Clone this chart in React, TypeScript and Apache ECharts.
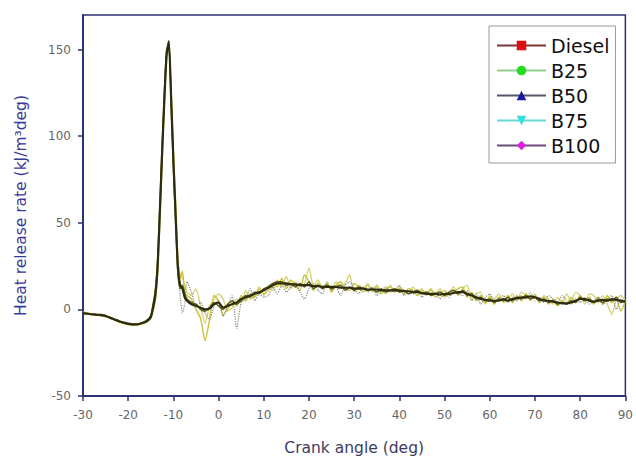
import React, { useEffect, useRef } from "react";
import * as echarts from "echarts";

const angles: number[] = [
  -30, -29, -28, -27, -26, -25, -24, -23, -22, -21, -20, -19, -18, -17, -16,
  -15, -14.5, -14, -13.5, -13, -12.5, -12, -11.5, -11, -10.5, -10, -9.5, -9, -8.5, -8, -7.5, -7,
  -6, -5, -4, -3, -2, -1, 0, 1, 2, 3,
  4, 5, 6, 7, 8, 9, 10, 11, 12, 13,
  14, 15, 16, 17, 18, 19, 20, 21, 22, 23,
  24, 25, 26, 27, 28, 29, 30, 31, 32, 33,
  34, 35, 36, 37, 38, 39, 40, 41, 42, 43,
  44, 45, 46, 47, 48, 49, 50, 51, 52, 53,
  54, 55, 56, 57, 58, 59, 60, 61, 62, 63,
  64, 65, 66, 67, 68, 69, 70, 71, 72, 73,
  74, 75, 76, 77, 78, 79, 80, 81, 82, 83,
  84, 85, 86, 87, 88, 89, 90,
];

const diesel: number[] = [
  -2.3, -2.5, -2.8, -3, -3.3, -3.8, -4.8, -5.8, -6.8, -7.6, -8.2, -8.6, -8.6, -8, -7,
  -4.5, 1, 8, 24, 56, 90, 121, 147, 155, 122, 86, 54, 24, 14, 12, 7, 5,
  3, 2, 1, 0, 0.5, 3, 4, 1, 2, 3,
  4, 6, 7, 8, 9, 10, 11, 12.5, 14, 15,
  15, 15, 14.5, 14.5, 14, 14, 14, 13.5, 13.5, 13,
  13, 13, 13, 12.5, 12.5, 12.5, 12, 12, 12, 11.5,
  11.5, 11.5, 11, 11, 11, 11, 11, 10.5, 10.5, 10,
  10, 9.5, 9, 9, 9, 8.5, 9, 9, 9.5, 10,
  10, 9, 8, 7, 6, 5.5, 5, 5, 5, 6,
  5, 6, 6.5, 7, 7, 7.5, 7, 6, 5, 5,
  4.5, 4, 3.5, 3.5, 4, 5, 6, 6, 5, 4.5,
  5, 5.5, 5, 6, 5.5, 5, 4.5,
];

const b25: number[] = [
  -2, -2.4, -3, -3.2, -3, -3.5, -5, -6, -7, -7.8, -8.5, -8.8, -8.4, -7.8, -6.5,
  -3.5, 3, 11, 28, 60, 94, 125, 150, 153, 118, 82, 50, 21, 12, 14, 9, 6,
  4, 3, 0, -1, 1, 4, 2, 0, 3, 5,
  3, 5, 8, 7, 10, 9, 12, 13, 15, 16,
  16, 14, 15, 13, 15, 13, 16, 12, 14, 12,
  14, 12, 13, 14, 11, 13, 11, 13, 12, 11,
  12, 10, 12, 10, 11, 12, 10, 11, 9, 10,
  11, 9, 10, 8, 9, 10, 8, 10, 11, 9,
  11, 8, 9, 6, 7, 5, 6, 4, 6, 5,
  7, 5, 7, 6, 8, 6, 7, 5, 6, 4,
  5, 3, 4, 3, 5, 4, 7, 5, 6, 4,
  6, 4, 6, 5, 7, 4, 5,
];

const b50: number[] = [
  -1.5, -2, -2.5, -3.5, -3, -4, -4.5, -6, -7.5, -8, -9, -9, -9, -8.5, -7.5,
  -5, -1, 5, 20, 50, 85, 118, 145, 152, 126, 92, 62, 30, 18, 22, 10, 8,
  6, 0, -5, -18, -6, 8, 5, -3, 0, 4,
  2, 8, 5, 9, 7, 12, 9, 11, 15, 13,
  18, 12, 17, 14, 11, 20, 16, 11, 15, 13,
  15, 10, 14, 16, 12, 11, 15, 13, 10, 14,
  11, 14, 9, 12, 13, 10, 12, 9, 12, 11,
  8, 11, 9, 12, 7, 9, 11, 8, 10, 12,
  13, 7, 10, 5, 8, 4, 7, 3, 7, 5,
  8, 4, 8, 5, 9, 6, 8, 4, 7, 3,
  6, 2, 5, 3, 7, 4, 8, 5, 7, 3,
  7, 3, 8, 4, 6, -1, 5,
];

const b75: number[] = [
  -2.8, -2.2, -3.2, -2.8, -3.8, -4.2, -5.2, -6.2, -7.2, -8, -8.8, -8.2, -8.8, -7.8, -6.8,
  -4, 2, 10, 27, 58, 92, 123, 148, 154, 124, 90, 58, 28, 20, 18, 14, 10,
  8, 12, 2, -8, 2, 6, 9, 6, -1, 1,
  6, 4, 11, 6, 8, 13, 8, 14, 11, 17,
  13, 19, 12, 16, 13, 15, 24, 13, 17, 12,
  14, 11, 16, 13, 15, 20, 10, 14, 12, 15,
  10, 13, 11, 9, 14, 10, 13, 11, 9, 13,
  10, 12, 8, 11, 9, 12, 7, 10, 13, 8,
  12, 14, 6, 9, 10, 3, 8, 6, 9, 4,
  6, 9, 5, 10, 8, 5, 9, 4, 8, 6,
  3, 7, 4, 9, 5, 10, 8, 3, 9, 8,
  4, 8, 3, -3, 6, 8, 5,
];

const b100: number[] = [
  -2.5, -2.6, -2.6, -3.1, -3.4, -4, -4.6, -5.6, -6.6, -7.4, -8, -8.4, -8.4, -7.9, -7.2,
  -5, 0, 7, 22, 54, 88, 120, 146, 154, 121, 88, 56, 27, 8, -2, 3, 16,
  10, 2, 4, -2, -6, 2, 5, -4, 2, 8,
  -11, 4, 6, 12, 5, 9, 7, 8, 13, 9,
  14, 10, 13, 15, 10, 6, 12, 15, 11, 9,
  16, 11, 13, 8, 14, 16, 12, 9, 13, 10,
  13, 8, 11, 13, 10, 11, 14, 8, 11, 9,
  11, 7, 10, 8, 10, 6, 9, 7, 11, 9,
  8, 11, 5, 9, 3, 7, 9, 4, 6, 8,
  4, 7, 5, 8, 6, 10, 5, 7, 4, 8,
  6, 4, 8, 5, 3, 6, 4, 7, 3, 5,
  7, 3, 5, 8, 0, 6, 4,
];

const seriesNames = ["Diesel", "B25", "B50", "B75", "B100"];
const yTicks = [-50, 0, 50, 100, 150];

const FONT = "DejaVu Sans";
const NAVY = "#2f3275";

export default function App() {
  const ref = useRef<HTMLDivElement>(null);
  useEffect(() => {
    if (!ref.current) return;
    const chart = echarts.init(ref.current, null, { renderer: "svg" });
    const pair = (vals: number[]) => angles.map((a, i) => [a, vals[i]]);
    const mk = (
      name: string,
      vals: number[],
      color: string,
      width: number,
      type: string,
      symbol: string,
      z: number,
      rotate = 0
    ) => ({
      name,
      type: "line",
      data: pair(vals),
      showSymbol: false,
      symbol,
      symbolRotate: rotate,
      z,
      smooth: 0.2,
      lineStyle: { color, width, type },
      itemStyle: { color },
    });
    const legendLine = (color: string) => ({ color, width: 2, type: "solid" });
    chart.setOption({
      animation: false,
      backgroundColor: "#ffffff",
      textStyle: { fontFamily: FONT },
      grid: {
        left: 83,
        top: 15,
        right: 8,
        bottom: 64,
        show: true,
        borderColor: NAVY,
        borderWidth: 1.5,
        backgroundColor: "transparent",
      },
      legend: {
        orient: "vertical",
        left: 489,
        top: 26,
        padding: [10, 6, 8, 7],
        itemGap: 6,
        itemWidth: 49,
        itemHeight: 12,
        backgroundColor: "#ffffff",
        borderColor: "#9a9a9a",
        borderWidth: 1,
        textStyle: { fontFamily: FONT, fontSize: 19, color: "#111", lineHeight: 19 },
        data: [
          { name: seriesNames[0], itemStyle: { color: "#dd1111" }, lineStyle: legendLine("#7a3535") },
          { name: seriesNames[1], itemStyle: { color: "#22dd22" }, lineStyle: legendLine("#8fcf8f") },
          { name: seriesNames[2], itemStyle: { color: "#1a1aa0" }, lineStyle: legendLine("#555566") },
          { name: seriesNames[3], itemStyle: { color: "#33dddd" }, lineStyle: legendLine("#66d8d8") },
          { name: seriesNames[4], itemStyle: { color: "#dd22dd" }, lineStyle: legendLine("#6a4a7a") },
        ],
      },
      xAxis: {
        type: "value",
        min: -30,
        max: 90,
        interval: 10,
        name: "Crank angle (deg)",
        nameLocation: "middle",
        nameGap: 44,
        nameTextStyle: { fontFamily: FONT, fontSize: 15.5, color: "#3c3c60" },
        axisLine: { show: true, onZero: false, lineStyle: { color: NAVY, width: 2 } },
        axisTick: { show: true, inside: false, length: 5, lineStyle: { color: NAVY, width: 1.5 } },
        axisLabel: { fontFamily: FONT, fontSize: 12, color: "#666", margin: 13 },
        splitLine: { show: false },
      },
      yAxis: {
        type: "value",
        min: -50,
        max: 170,
        interval: 50,
        name: "Heat release rate (kJ/m³deg)",
        nameLocation: "middle",
        nameGap: 54,
        nameRotate: 90,
        nameTextStyle: { fontFamily: FONT, fontSize: 15.5, color: "#3a3a98" },
        axisLine: { show: true, onZero: false, lineStyle: { color: NAVY, width: 2 } },
        axisTick: {
          show: true,
          inside: false,
          length: 5,
          customValues: yTicks,
          lineStyle: { color: NAVY, width: 1.5 },
        },
        axisLabel: {
          fontFamily: FONT,
          fontSize: 12,
          color: "#666",
          margin: 12,
          customValues: yTicks,
        },
        splitLine: { show: false },
      },
      series: [
        mk(seriesNames[0], diesel, "#2e2c0e", 2.2, "solid", "rect", 6),
        mk(seriesNames[1], b25, "#55581c", 1.5, "solid", "circle", 5),
        mk(seriesNames[2], b50, "#c8c23c", 1.4, "solid", "triangle", 3),
        mk(seriesNames[3], b75, "#d6d070", 1.3, "solid", "triangle", 2, 180),
        mk(seriesNames[4], b100, "#8a8a78", 1.2, "dotted", "diamond", 4),
      ],
    });
    return () => chart.dispose();
  }, []);
  return (
    <div
      ref={ref}
      style={{ position: "fixed", left: 0, top: 0, width: 636, height: 461, background: "#fff" }}
    />
  );
}
